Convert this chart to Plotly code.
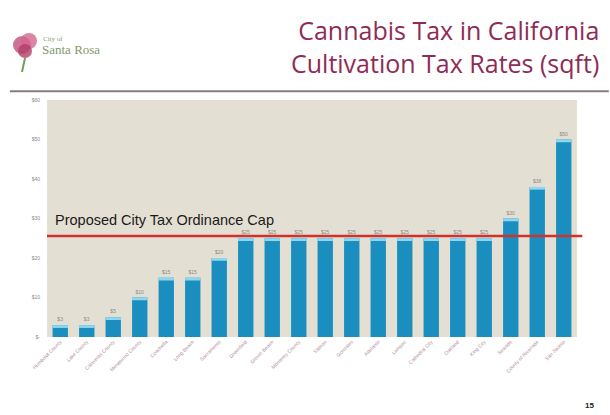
import plotly.graph_objects as go

categories = [
    "Humboldt County", "Lake County", "Calaveras County", "Mendocino County",
    "Coachella", "Long Beach", "Sacramento", "Greenfield", "Grover Beach",
    "Monterey County", "Salinas", "Gonzales", "Adelanto", "Lompoc",
    "Cathedral City", "Oakland", "King City", "Seaside",
    "County of Riverside", "San Jacinto",
]
tax_rates = [3, 3, 5, 10, 15, 15, 20, 25, 25, 25, 25, 25, 25, 25, 25, 25, 25, 30, 38, 50]
cap_value = 25.6
cap_label = "Proposed City Tax Ordinance Cap"
y_tickvals = [0, 10, 20, 30, 40, 50, 60]
y_ticktext = ["$-", "$10", "$20", "$30", "$40", "$50", "$60"]
cap_thickness = 0.7

fig = go.Figure()
fig.add_trace(go.Bar(
    x=categories, y=tax_rates,
    marker=dict(color="#1a8fbf", line=dict(width=0)),
    text=[f"${v}" for v in tax_rates], textposition="outside",
    textfont=dict(size=5, color="#8a8a8a"), cliponaxis=False,
    hoverinfo="x+y",
))
fig.add_trace(go.Bar(
    x=categories, y=[cap_thickness] * len(tax_rates),
    base=[v - cap_thickness for v in tax_rates],
    marker=dict(color="#8fd6ee", line=dict(width=0)),
    hoverinfo="skip",
))

fig.update_layout(
    width=610, height=415,
    margin=dict(l=47, r=33, t=100, b=78),
    paper_bgcolor="white", plot_bgcolor="#e4dfd3",
    barmode="overlay", bargap=0.42, showlegend=False,
    font=dict(family="Liberation Sans, Arial", color="#333"),
)
fig.update_xaxes(
    tickangle=-45, tickfont=dict(size=5, color="#b08e98"),
    showgrid=False, showline=False, ticks="",
)
fig.update_yaxes(
    range=[0, 60], tickvals=y_tickvals, ticktext=y_ticktext,
    tickfont=dict(size=5, color="#8a8a8a"), showgrid=False, zeroline=False,
    ticks="", ticklabelstandoff=6,
)

# cap line
fig.add_shape(type="line", xref="paper", yref="y", x0=0, x1=1.01,
              y0=cap_value, y1=cap_value, line=dict(color="#d0312d", width=2.5))
fig.add_annotation(text=cap_label, xref="paper", yref="y", x=0.012, y=cap_value + 1.5,
                   xanchor="left", yanchor="bottom", showarrow=False,
                   font=dict(size=14.5, color="#1a1a1a", family="Liberation Sans, Arial"))

# Title
fig.add_annotation(text="Cannabis Tax in California<br>Cultivation Tax Rates (sqft)",
                   xref="paper", yref="paper", x=1.045, y=1.375, xanchor="right",
                   yanchor="top", align="right", showarrow=False,
                   font=dict(size=25, color="#8e2c56", family="Open Sans", weight=500))
# rule under title
fig.add_shape(type="line", xref="paper", yref="paper", x0=-0.07, x1=1.06,
              y0=1.037, y1=1.037, line=dict(color="#8a7a82", width=2))

# Logo
for cx, cy, r, c in [(22, 45, 9, "#c2507a"), (29, 41, 8, "#d2668e"), (25, 51, 7, "#b23d68")]:
    fig.add_shape(type="circle", xref="paper", yref="paper",
                  x0=(cx - r - 47) / 530, x1=(cx + r - 47) / 530,
                  y0=(337 - cy - r) / 237, y1=(337 - cy + r) / 237,
                  fillcolor=c, line=dict(width=0), opacity=0.8)
fig.add_shape(type="line", xref="paper", yref="paper",
              x0=(25 - 47) / 530, x1=(22 - 47) / 530,
              y0=(337 - 58) / 237, y1=(337 - 72) / 237,
              line=dict(color="#7a9a5a", width=2))
fig.add_annotation(text="City of", xref="paper", yref="paper",
                   x=(41 - 47) / 530, y=(337 - 39) / 237, xanchor="left", yanchor="middle",
                   showarrow=False, font=dict(size=7, color="#8a9a7a", family="Liberation Serif"))
fig.add_annotation(text="Santa Rosa", xref="paper", yref="paper",
                   x=(40 - 47) / 530, y=(337 - 50) / 237, xanchor="left", yanchor="middle",
                   showarrow=False, font=dict(size=13, color="#7f9a6a", family="Liberation Serif"))

# page number
fig.add_annotation(text="<b>15</b>", xref="paper", yref="paper",
                   x=(596 - 47) / 530, y=(337 - 405) / 237, xanchor="right", yanchor="middle",
                   showarrow=False, font=dict(size=8, color="#222"))

fig.write_html("out.html")
